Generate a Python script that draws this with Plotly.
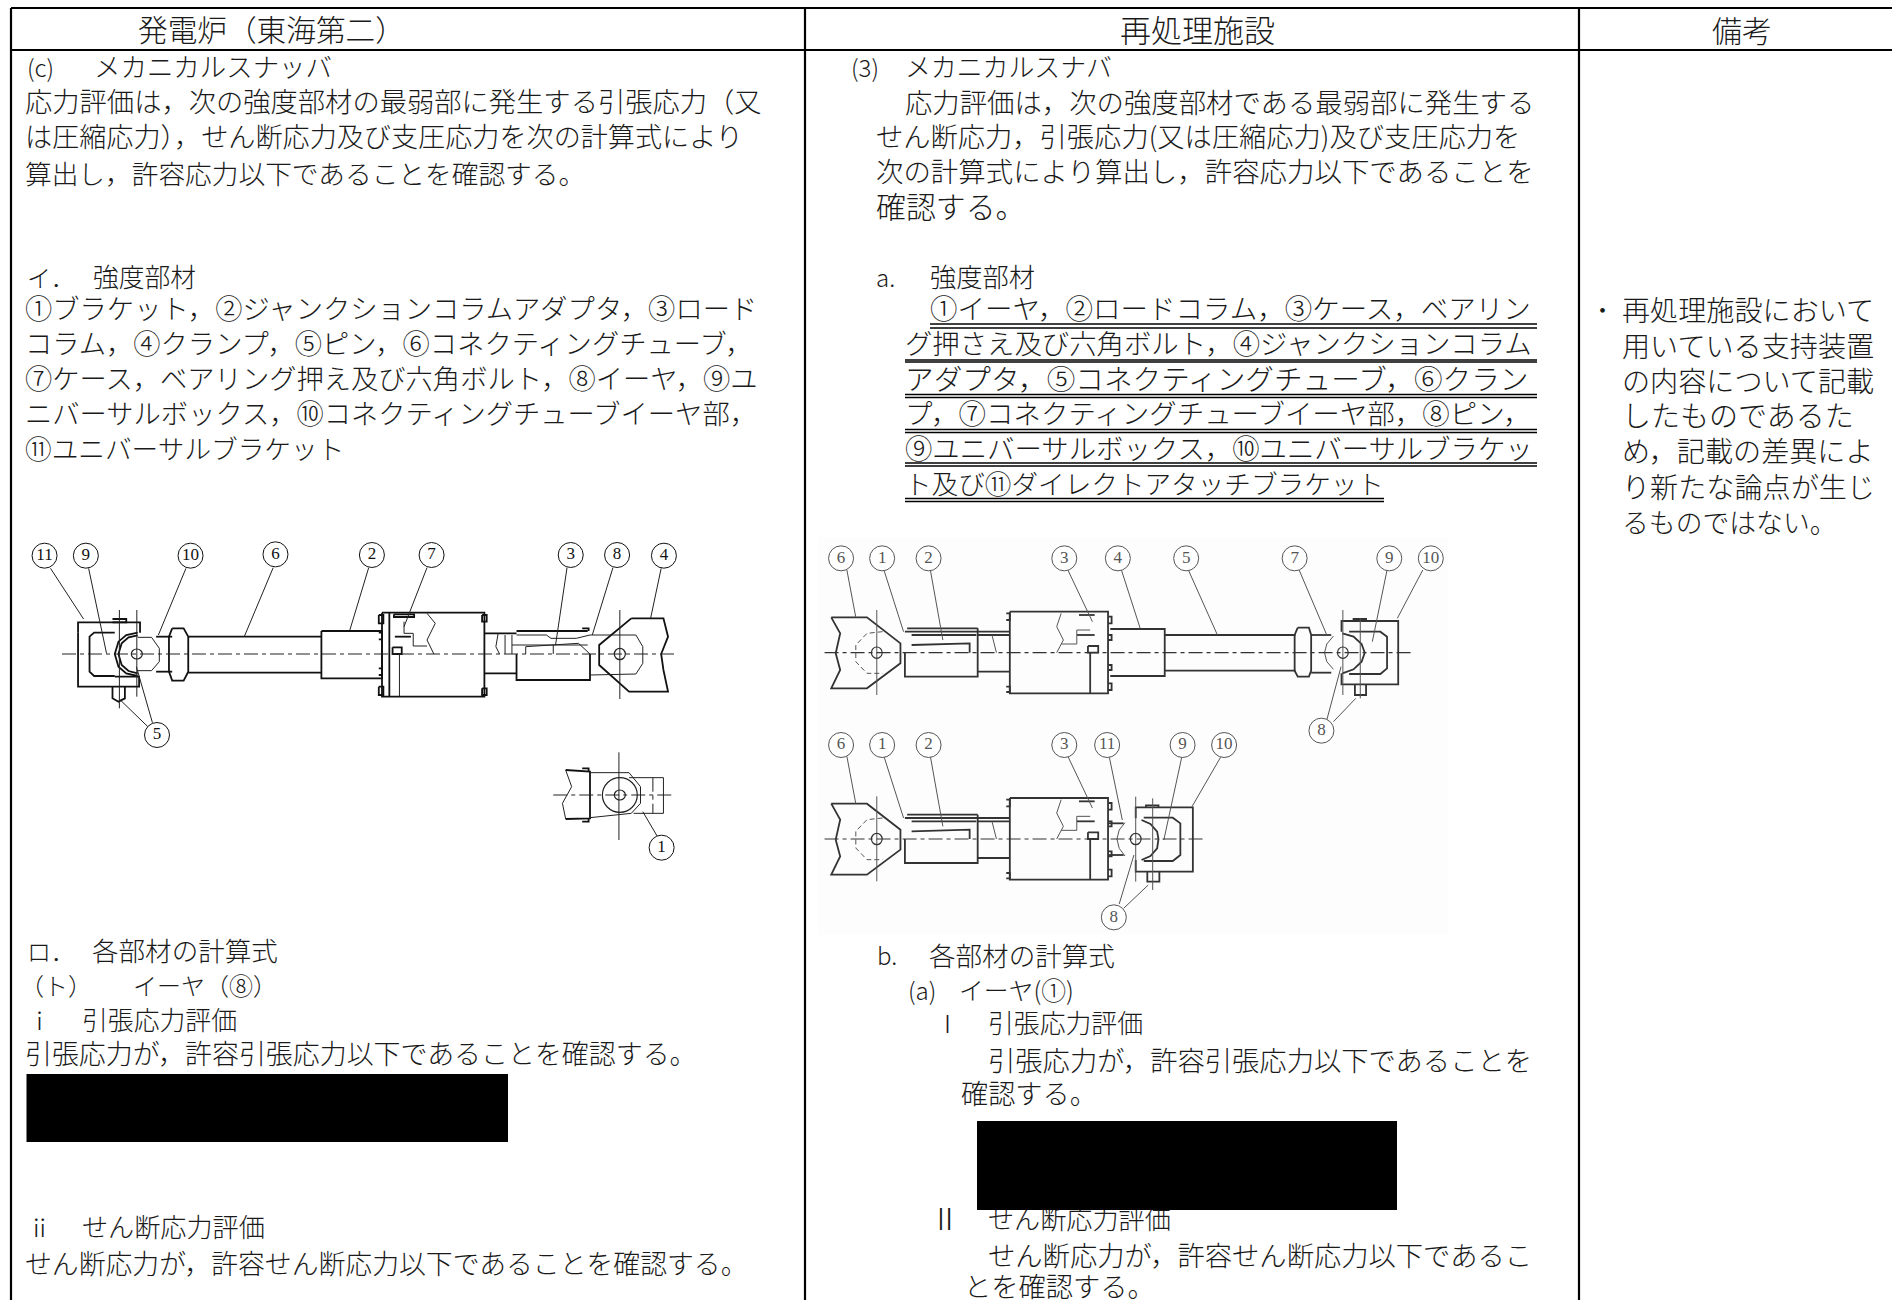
import plotly.graph_objects as go

FONT = "Noto Sans CJK JP"
INK = "#1a1a1a"

# ---------- text content ----------
header_text = ["発電炉（東海第二）", "再処理施設", "備考"]
header_x0 = [138, 1120, 1712]
header_x1 = [405, 1277, 1772]
header_y = [34, 34, 34]

left_text = [
    "(c)", "メカニカルスナッバ",
    "応力評価は，次の強度部材の最弱部に発生する引張応力（又",
    "は圧縮応力），せん断応力及び支圧応力を次の計算式により",
    "算出し，許容応力以下であることを確認する。",
    "イ．", "強度部材",
    "①ブラケット，②ジャンクションコラムアダプタ，③ロード",
    "コラム，④クランプ，⑤ピン，⑥コネクティングチューブ，",
    "⑦ケース，ベアリング押え及び六角ボルト，⑧イーヤ，⑨ユ",
    "ニバーサルボックス，⑩コネクティングチューブイーヤ部，",
    "⑪ユニバーサルブラケット",
    "ロ．", "各部材の計算式",
    "（ト）", "イーヤ（⑧）",
    "ⅰ", "引張応力評価",
    "引張応力が，許容引張応力以下であることを確認する。",
    "ⅱ", "せん断応力評価",
    "せん断応力が，許容せん断応力以下であることを確認する。",
]
left_x0 = [27, 94, 25, 25, 25, 27, 93, 25, 25, 25, 25, 25,
           27, 92, 20, 133, 27, 82, 25, 27, 82, 25]
left_x1 = [48, 332, 762, 757, 569, 55, 196, 762, 745, 762, 745, 345,
           55, 278, 72, 273, 52, 237, 682, 52, 265, 733]
left_y = [70.5, 70.5, 105.5, 140.5, 177, 280.5, 280.5, 312.5, 347.5, 382.5, 417.5, 452.5,
          954.5, 954.5, 988.5, 988.5, 1023.5, 1023.5, 1057.5, 1230.5, 1230.5, 1267.5]

right_text = [
    "(3)", "メカニカルスナバ",
    "応力評価は，次の強度部材である最弱部に発生する",
    "せん断応力，引張応力(又は圧縮応力)及び支圧応力を",
    "次の計算式により算出し，許容応力以下であることを",
    "確認する。",
    "a.", "強度部材",
    "①イーヤ，②ロードコラム，③ケース，ベアリン",
    "グ押さえ及び六角ボルト，④ジャンクションコラム",
    "アダプタ，⑤コネクティングチューブ，⑥クラン",
    "プ，⑦コネクティングチューブイーヤ部，⑧ピン，",
    "⑨ユニバーサルボックス，⑩ユニバーサルブラケッ",
    "ト及び⑪ダイレクトアタッチブラケット",
    "b.", "各部材の計算式",
    "(a)", "イーヤ(①)",
    "Ⅰ", "引張応力評価",
    "引張応力が，許容引張応力以下であることを",
    "確認する。",
    "Ⅱ", "せん断応力評価",
    "せん断応力が，許容せん断応力以下であるこ",
    "とを確認する。",
]
right_x0 = [851, 905, 905, 876, 876, 876, 876, 930, 930, 905, 905, 905, 905, 905,
            877, 929, 908, 959, 935, 988, 988, 961, 930, 988, 988, 964]
right_x1 = [873, 1112, 1535, 1535, 1535, 1007, 892, 1035, 1535, 1535, 1535, 1520, 1535, 1384,
            892, 1115, 950, 1087, 960, 1143, 1534, 1080, 960, 1171, 1534, 1138]
right_y = [70.5, 70.5, 106.5, 140.5, 175.5, 210.5, 280.5, 280.5, 312.5, 347.5, 382.5, 417.5, 452.5, 487.5,
           959, 959, 994, 994, 1027, 1027, 1064, 1097, 1222, 1222, 1259, 1290]

note_text = ["・", "再処理施設において", "用いている支持装置", "の内容について記載",
             "したものであるた", "め，記載の差異によ", "り新たな論点が生じ", "るものではない。"]
note_x0 = [1590, 1622, 1622, 1622, 1622, 1622, 1622, 1622]
note_x1 = [1615, 1875, 1875, 1875, 1875, 1875, 1875, 1820]
note_y = [314, 314, 350, 385, 420, 455, 491, 526]

# double underline rows (reviewed text in the right column)
underline_x0 = [930, 905, 905, 905, 905, 905]
underline_x1 = [1537, 1537, 1537, 1537, 1537, 1384]
underline_y_a = [324, 360, 394.5, 429.5, 463, 498.5]
underline_y_b = [328, 362, 397.5, 432.5, 466, 501.5]

# blacked-out formula boxes
box_x0 = [26.5, 977]
box_x1 = [508, 1397]
box_y0 = [1074, 1121]
box_y1 = [1142, 1210]

# ---------- left drawing (traced in its own 2160x1080 space) ----------
L_num = ["11", "9", "10", "6", "2", "7", "3", "8", "4", "5", "1"]
L_num_x = [97, 187, 415, 600, 810, 940, 1243, 1344, 1446, 342, 1441]
L_num_y = [107, 107, 107, 103, 105, 105, 105, 105, 107, 645, 983]
L_thick = [
    [(170, 338), (170, 307), (305, 307), (305, 338)],
    [(170, 338), (170, 500), (303, 500), (303, 470), (250, 470)],
    [(250, 338), (205, 338), (195, 350), (195, 455), (205, 468), (250, 468)],
    [(300, 338), (275, 345), (258, 365), (250, 402), (258, 440), (275, 460), (300, 468)],
    [(300, 346), (280, 352), (265, 370), (258, 402), (265, 435), (280, 453), (300, 460)],
    [(340, 350), (375, 350)], [(340, 455), (375, 455)],
    [(375, 325), (400, 325), (410, 350), (410, 455), (400, 482), (375, 482), (368, 455), (368, 350), (375, 325)],
    [(410, 350), (700, 350)], [(410, 458), (700, 458)],
    [(700, 333), (832, 333), (832, 475), (700, 475), (700, 333)],
    [(832, 278), (1055, 278), (1055, 530), (832, 530), (832, 278)],
    [(848, 278), (848, 530)],
    [(1055, 340), (1125, 340)], [(1055, 460), (1125, 460)],
    [(1125, 402), (1125, 480), (1285, 480), (1285, 402)],
    [(1125, 333), (1280, 333)],
    [(1375, 295), (1445, 295), (1455, 350), (1440, 402), (1445, 450), (1455, 515), (1370, 515), (1305, 435), (1305, 375), (1375, 295)],
    [(245, 500), (245, 535), (258, 545), (272, 535), (272, 500)],
    [(245, 297), (275, 297), (275, 307), (245, 307)],
    [(858, 283), (902, 283), (902, 291), (858, 291), (858, 283)],
    [(860, 350), (895, 350)],
    [(855, 382), (875, 382), (875, 402), (855, 402), (855, 382)],
    [(825, 285), (835, 285), (835, 310), (825, 310), (825, 285)],
    [(825, 500), (835, 500), (835, 525), (825, 525), (825, 500)],
    [(1050, 285), (1060, 285), (1060, 305), (1050, 305), (1050, 285)],
    [(1050, 505), (1060, 505), (1060, 525), (1050, 525), (1050, 505)],
    [(825, 338), (832, 338), (832, 358), (825, 358)],
    [(825, 445), (832, 445), (832, 465), (825, 465)],
    [(1232, 750), (1285, 755), (1285, 895), (1232, 897)],
    [(1268, 325), (1282, 325), (1282, 333)],
    [(1268, 745), (1282, 745), (1282, 755)],
    [(1268, 905), (1282, 905), (1282, 895)],
]
L_thin = [
    [(260, 270), (260, 565)], [(298, 270), (298, 530)],
    [(300, 352), (330, 352), (347, 385), (347, 425), (330, 452), (300, 452)],
    [(870, 400), (870, 530)],
    [(930, 280), (948, 310), (930, 360), (945, 402)],
    [(880, 305), (880, 340), (900, 340), (900, 378), (930, 378)],
    [(1085, 340), (1080, 380), (1088, 402)],
    [(1100, 345), (1100, 402)], [(1115, 345), (1115, 402)],
    [(1125, 345), (1190, 345), (1200, 355), (1255, 355), (1285, 345)],
    [(1115, 375), (1280, 375)],
    [(1145, 402), (1145, 380), (1260, 370), (1285, 402)],
    [(1205, 402), (1205, 375)],
    [(1285, 345), (1385, 345), (1400, 380), (1400, 430), (1385, 462), (1285, 465)],
    [(1350, 270), (1350, 537)],
    [(1232, 750), (1245, 800), (1225, 850), (1232, 897)],
    [(1285, 758), (1370, 758), (1395, 800), (1395, 850), (1375, 880), (1285, 893)],
    [(1370, 773), (1445, 773), (1445, 880), (1380, 880)],
    [(1348, 697), (1348, 960)],
    [(110, 145), (182, 297)], [(193, 145), (232, 400)], [(405, 145), (345, 345)],
    [(595, 143), (532, 350)], [(803, 143), (762, 330)], [(930, 143), (880, 320)],
    [(1235, 143), (1210, 375)], [(1335, 143), (1290, 345)], [(1440, 145), (1417, 295)],
    [(322, 620), (262, 540)], [(332, 608), (297, 440)], [(1432, 950), (1400, 875)],
]
L_dash = [[(135, 402), (1475, 402)], [(1205, 825), (1470, 825)], [(1422, 773), (1422, 880)]]
L_circle = [(298, 402, 12, 15), (1350, 402, 12, 17), (1350, 825, 38, 52), (1350, 825, 12, 15)]

# ---------- right drawing (traced in its own 2100x1290 space) ----------
R_num = ["6", "1", "2", "3", "4", "5", "7", "9", "10", "8",
         "6", "1", "2", "3", "11", "9", "10", "8"]
R_num_x = [92, 184, 288, 592, 712, 865, 1108, 1320, 1413, 1168,
           92, 184, 288, 592, 688, 857, 950, 703]
R_num_y = [115, 115, 115, 115, 115, 115, 115, 115, 115, 632,
           675, 675, 675, 675, 675, 675, 675, 1192]
R_common = [
    [(70, 292), (150, 292), (225, 370), (225, 430), (150, 505), (70, 505), (90, 450), (80, 400), (90, 340), (70, 292)],
    [(235, 335), (470, 335)], [(240, 325), (398, 325)], [(250, 345), (395, 345)],
    [(250, 375), (380, 370), (380, 398)],
    [(235, 398), (235, 470), (398, 470), (398, 325)],
    [(398, 345), (470, 345)], [(398, 455), (470, 455)],
    [(470, 275), (690, 275), (690, 520), (470, 520), (470, 275)],
    [(650, 398), (650, 520)],
    [(625, 285), (660, 285)],
    [(620, 345), (660, 345)],
    [(645, 378), (668, 378), (668, 398), (645, 398), (645, 378)],
    [(462, 280), (470, 280), (470, 300), (462, 300)],
    [(462, 500), (470, 500), (470, 516), (462, 516)],
    [(690, 290), (698, 290), (698, 310), (690, 310)],
    [(690, 345), (698, 345), (698, 360), (690, 360)],
    [(690, 435), (698, 435), (698, 450), (690, 450)],
    [(690, 490), (698, 490), (698, 510), (690, 510)],
]
R_common_thin = [
    [(172, 270), (172, 525)],
    [(430, 345), (440, 398)],
    [(585, 280), (575, 320), (590, 360), (575, 398)],
    [(620, 330), (650, 330)], [(620, 330), (620, 372), (585, 372)],
    [(105, 150), (125, 292)], [(188, 150), (232, 335)],
    [(292, 150), (320, 360)], [(600, 150), (655, 305)],
]
R_common_dash = [[(185, 335), (150, 340), (125, 375), (125, 425), (150, 460), (185, 460)]]
R_upper = [
    [(695, 327), (817, 327), (817, 468), (695, 468)],
    [(817, 345), (1110, 345)], [(817, 452), (1110, 452)],
    [(1115, 323), (1140, 323), (1145, 345), (1145, 452), (1140, 470), (1115, 470), (1108, 452), (1108, 345), (1115, 323)],
    [(1145, 345), (1190, 345)], [(1145, 458), (1190, 458)],
    [(1215, 340), (1240, 350), (1258, 372), (1265, 398), (1258, 425), (1240, 448), (1215, 460)],
    [(1213, 335), (1213, 303), (1340, 303), (1340, 493), (1213, 493), (1213, 460)],
    [(1230, 335), (1300, 335), (1315, 350), (1315, 445), (1300, 462), (1230, 462)],
    [(1243, 493), (1243, 525), (1268, 525), (1268, 493)],
    [(1240, 303), (1240, 297), (1268, 297), (1268, 303)],
]
R_upper_thin = [
    [(1195, 348), (1180, 372), (1175, 398), (1180, 425), (1195, 448)],
    [(1216, 270), (1216, 525)], [(1255, 295), (1255, 535)],
    [(720, 150), (762, 325)], [(870, 150), (935, 345)], [(1118, 150), (1180, 345)],
    [(1315, 150), (1282, 365)], [(1395, 150), (1338, 295)],
    [(1180, 600), (1212, 440)], [(1195, 605), (1245, 535)],
]
R_lower = [
    [(690, 910), (725, 910)], [(690, 1005), (725, 1005)],
    [(765, 900), (785, 912), (800, 935), (803, 957), (800, 985), (785, 1008), (765, 1020)],
    [(752, 895), (752, 862), (880, 862), (880, 1055), (752, 1055), (752, 1020)],
    [(770, 893), (835, 893), (852, 910), (852, 1005), (835, 1023), (770, 1023)],
    [(778, 1055), (778, 1085), (805, 1085), (805, 1055)],
    [(775, 862), (775, 856), (803, 856), (803, 862)],
]
R_lower_thin = [
    [(728, 908), (715, 930), (710, 957), (715, 985), (728, 1008)],
    [(752, 830), (752, 1085)], [(790, 835), (790, 1110)],
    [(693, 712), (722, 900)], [(855, 712), (815, 960)], [(942, 712), (878, 860)],
    [(715, 1152), (748, 1005)], [(725, 1165), (780, 1095)],
]
R_dash = [[(55, 398), (1375, 398)], [(55, 957), (905, 957)]]
R_circle = [(172, 398, 12, 17), (172, 957, 12, 17), (1216, 398, 12, 17), (752, 957, 12, 17)]
R_lower_offset = 559


# ---------- layout helpers ----------
def ems(s):
    n = sum(0.58 if ord(c) < 128 else 1.0 for c in s)
    if s[-1] in "，。":
        n -= 0.62
    return max(n, 0.6)


def fit(t, a, b, hi=31):
    return [min(max((x1 - x0) / ems(s), 24), hi) for s, x0, x1 in zip(t, a, b)]


def lx(v):
    return v / 2.178


def ly(v):
    return 520 + v / 3


def rx(v):
    return 800 + v / 2.24


def ry(v):
    return 520 + v / 3


def path(groups, fx, fy, dy=0):
    xs, ys = [], []
    for g in groups:
        xs += [fx(p[0]) for p in g] + [None]
        ys += [fy(p[1] + dy) for p in g] + [None]
    return xs, ys


fig = go.Figure()


def add_lines(groups, fx, fy, w, color, dash="solid", dy=0):
    x, y = path(groups, fx, fy, dy)
    fig.add_trace(go.Scatter(x=x, y=y, mode="lines", line=dict(color=color, width=w, dash=dash),
                             hoverinfo="skip", connectgaps=False))


# drawing: faint scan background
shapes = [dict(type="rect", x0=818, x1=1448, y0=537, y1=935, fillcolor="#fdfdfd",
               line=dict(width=0), layer="below")]

# left drawing
add_lines(L_thick, lx, ly, 1.8, "#111111")
add_lines(L_thin, lx, ly, 1.0, "#222222")
add_lines(L_dash, lx, ly, 1.0, "#222222", "14px,4px,4px,4px")
for cx, cy, ra, rb in L_circle:
    shapes.append(dict(type="circle", x0=lx(cx - ra), x1=lx(cx + ra), y0=ly(cy - rb), y1=ly(cy + rb),
                       line=dict(color="#222222", width=1.2)))

# right drawing
C_R = "#333333"
add_lines(R_common, rx, ry, 1.8, C_R)
add_lines(R_common, rx, ry, 1.8, C_R, dy=R_lower_offset)
add_lines(R_common_thin, rx, ry, 1.0, "#555555")
add_lines(R_common_thin, rx, ry, 1.0, "#555555", dy=R_lower_offset)
add_lines(R_common_dash, rx, ry, 1.0, "#555555", "5px,3px")
add_lines(R_common_dash, rx, ry, 1.0, "#555555", "5px,3px", dy=R_lower_offset)
add_lines(R_upper, rx, ry, 1.8, C_R)
add_lines(R_upper_thin, rx, ry, 1.0, "#555555")
add_lines(R_lower, rx, ry, 1.8, C_R)
add_lines(R_lower_thin, rx, ry, 1.0, "#555555")
add_lines(R_dash, rx, ry, 1.2, C_R, "14px,4px,4px,4px")
for cx, cy, ra, rb in R_circle:
    shapes.append(dict(type="circle", x0=rx(cx - ra), x1=rx(cx + ra), y0=ry(cy - rb), y1=ry(cy + rb),
                       line=dict(color=C_R, width=1.2)))

# numbered balloons
fig.add_trace(go.Scatter(
    x=[lx(v) for v in L_num_x], y=[ly(v) for v in L_num_y], text=L_num, mode="markers+text",
    textposition="middle center", hoverinfo="skip",
    marker=dict(size=25, color="white", line=dict(color="#111111", width=1)),
    textfont=dict(family="Liberation Serif", size=17, color="#111111")))
fig.add_trace(go.Scatter(
    x=[rx(v) for v in R_num_x], y=[ry(v) for v in R_num_y], text=R_num, mode="markers+text",
    textposition="middle center", hoverinfo="skip",
    marker=dict(size=25, color="white", line=dict(color="#555555", width=1)),
    textfont=dict(family="Liberation Serif", size=17, color="#555555")))

# underlines
ux, uy = [], []
for a, b, y1, y2 in zip(underline_x0, underline_x1, underline_y_a, underline_y_b):
    ux += [a, b, None, a, b, None]
    uy += [y1, y1, None, y2, y2, None]
fig.add_trace(go.Scatter(x=ux, y=uy, mode="lines", line=dict(color="#000000", width=1.6), hoverinfo="skip"))

# all text
for t, a, b, y, hi in [(header_text, header_x0, header_x1, header_y, 31),
                       (left_text, left_x0, left_x1, left_y, 31),
                       (right_text, right_x0, right_x1, right_y, 31),
                       (note_text, note_x0, note_x1, note_y, 29)]:
    fig.add_trace(go.Scatter(
        x=a, y=y, text=t, mode="text", textposition="middle right", hoverinfo="skip",
        textfont=dict(family=FONT, size=fit(t, a, b, hi), color=INK, weight=300)))

# table rules
for x in [11, 805, 1579]:
    shapes.append(dict(type="line", x0=x, x1=x, y0=8, y1=1300, line=dict(color="black", width=2.2)))
for y in [8, 50]:
    shapes.append(dict(type="line", x0=11, x1=1892, y0=y, y1=y, line=dict(color="black", width=2.2)))
# black boxes cover what sits under them
for a, b, c, d in zip(box_x0, box_x1, box_y0, box_y1):
    shapes.append(dict(type="rect", x0=a, x1=b, y0=c, y1=d, fillcolor="black",
                       line=dict(width=0), layer="above"))

fig.update_layout(
    width=1892, height=1300, margin=dict(l=0, r=0, t=0, b=0, pad=0),
    paper_bgcolor="white", plot_bgcolor="white", showlegend=False, hovermode=False,
    shapes=shapes,
    xaxis=dict(range=[0, 1892], visible=False, fixedrange=True),
    yaxis=dict(range=[1300, 0], visible=False, fixedrange=True),
)
fig.write_html("out.html", config=dict(displayModeBar=False),
               post_script="document.body.style.margin='0';document.body.style.overflow='hidden';")
